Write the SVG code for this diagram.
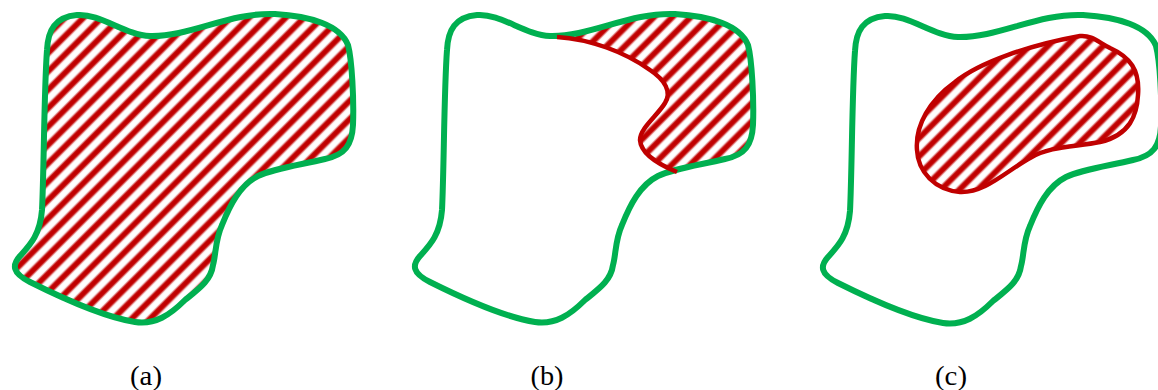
<svg xmlns="http://www.w3.org/2000/svg" xmlns:xlink="http://www.w3.org/1999/xlink" width="1158" height="390" viewBox="0 0 1158 390">
  <style>
    .outline { fill: none; stroke: #00b050; stroke-width: 6; stroke-linejoin: round; }
    .redline { fill: none; stroke: #c00000; stroke-width: 4.5; stroke-linejoin: round; }
    .hatched { fill: url(#hatch); stroke: none; }
    .label { font-family: "Liberation Serif", "Times New Roman", serif; font-size: 27px; fill: #000; text-anchor: middle; }
  </style>
  <defs>
    <linearGradient id="stripe" x1="0" y1="0" x2="0" y2="1">
      <stop offset="0" stop-color="#ffffff"/>
      <stop offset="0.18" stop-color="#ffffff"/>
      <stop offset="0.36" stop-color="#c00000"/>
      <stop offset="0.64" stop-color="#c00000"/>
      <stop offset="0.82" stop-color="#ffffff"/>
      <stop offset="1" stop-color="#ffffff"/>
    </linearGradient>
    <pattern id="hatch" patternUnits="userSpaceOnUse" width="13" height="13" patternTransform="rotate(-45)">
      <rect x="0" y="0" width="13" height="13" fill="url(#stripe)"/>
    </pattern>
    <path id="blob" d="M47,50 C48,30 55,17 77,15 C100,13 125,35 150,36 C190,37 230,12 275,14 C310,16 340,25 348,45 C352,60 354,100 353,125 C352,145 345,155 325,159 C300,165 275,168 258,176 C240,185 230,205 222,225 C215,240 216,255 213,265 C211,280 200,288 185,300 C170,315 155,325 135,322 C110,318 70,302 30,282 C12,273 12,265 20,256 C30,245 40,235 42,210 C44,170 44,90 47,50 Z"/>
    <clipPath id="clipB">
      <use xlink:href="#blob" transform="translate(400,0)"/>
    </clipPath>
  </defs>

  <g id="panel-a">
    <use xlink:href="#blob" class="hatched"/>
    <use xlink:href="#blob" class="outline"/>
    <text class="label" x="146" y="385" textLength="32" lengthAdjust="spacingAndGlyphs">(a)</text>
  </g>

  <g id="panel-b">
    <g clip-path="url(#clipB)">
      <path class="hatched" d="M557,37 C590,39 625,52 650,70 C665,80 672,92 665,103 C658,115 640,128 640,140 C641,155 660,165 677,172 L690,200 L800,200 L800,0 L557,0 Z"/>
    </g>
    <use xlink:href="#blob" class="outline" transform="translate(400,0)"/>
    <text class="label" x="547" y="385" textLength="33" lengthAdjust="spacingAndGlyphs">(b)</text>
  </g>

  <g id="panel-c">
    <use xlink:href="#blob" class="outline" transform="translate(808,1)"/>
    <path class="hatched" d="M917,150 C915,125 930,100 955,82 C980,62 1030,45 1080,36 C1092,35 1098,42 1110,48 C1130,57 1140,70 1138,95 C1137,115 1130,135 1100,142 C1075,147 1050,146 1030,158 C1005,172 985,193 960,192 C935,190 918,172 917,150 Z"/>
    <text class="label" x="951" y="385" textLength="32" lengthAdjust="spacingAndGlyphs">(c)</text>
  </g>

  <g id="connectors">
    <path class="redline" d="M557,37 C590,39 625,52 650,70 C665,80 672,92 665,103 C658,115 640,128 640,140 C641,155 660,165 677,172"/>
    <path class="redline" d="M917,150 C915,125 930,100 955,82 C980,62 1030,45 1080,36 C1092,35 1098,42 1110,48 C1130,57 1140,70 1138,95 C1137,115 1130,135 1100,142 C1075,147 1050,146 1030,158 C1005,172 985,193 960,192 C935,190 918,172 917,150 Z"/>
  </g>
</svg>
